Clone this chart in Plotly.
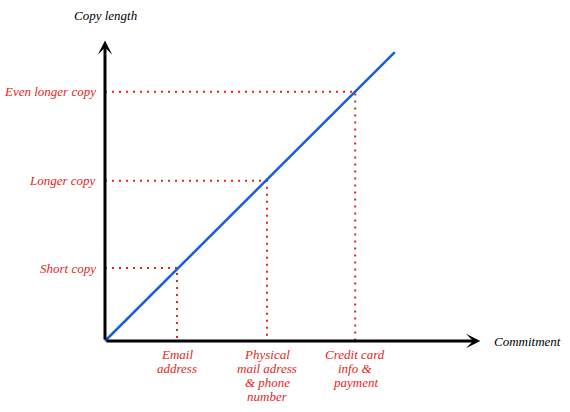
import plotly.graph_objects as go

# Data (arbitrary units; origin of the diagram at 0,0)
commitment_labels = [["Email", "address"],
                     ["Physical", "mail adress", "& phone", "number"],
                     ["Credit card", "info &", "payment"]]
copy_labels = ["Short copy", "Longer copy", "Even longer copy"]
commitment_values = [0.80, 1.80, 2.78]
copy_values = [0.81, 1.78, 2.77]
line_x = [0, 3.22]
line_y = [0, 3.21]
axis_x_end = 4.17
axis_y_end = 3.34

RED = "#e3261c"
BLUE = "#1560d4"
FONT = "Liberation Serif"
FS = 13
UNIT = 90.0  # px per data unit

fig = go.Figure()

# dotted guide lines
for cx, cy in zip(commitment_values, copy_values):
    fig.add_trace(go.Scatter(x=[0, cx, cx], y=[cy, cy, 0], mode="lines",
                             line=dict(color=RED, width=2, dash="2px,5px"),
                             hoverinfo="skip", showlegend=False))

# main line
fig.add_trace(go.Scatter(x=line_x, y=line_y, mode="lines",
                         line=dict(color=BLUE, width=2.5),
                         hoverinfo="skip", showlegend=False))

ann = []
# axes with arrows
for (hx, hy) in [(axis_x_end, 0), (0, axis_y_end)]:
    ann.append(dict(x=hx, y=hy, ax=0, ay=0, xref="x", yref="y", axref="x", ayref="y",
                    showarrow=True, arrowhead=3, arrowsize=0.8, arrowwidth=3, arrowcolor="black",
                    standoff=0, startstandoff=0, text=""))

# y labels
for cy, lab in zip(copy_values, copy_labels):
    ann.append(dict(x=-0.08, y=cy, xref="x", yref="y", text=lab, showarrow=False,
                    xanchor="right", yanchor="middle",
                    font=dict(family=FONT, size=FS, color=RED, style="italic")))
# x labels, one annotation per line
for cx, lines in zip(commitment_values, commitment_labels):
    for i, t in enumerate(lines):
        ann.append(dict(x=cx, y=-(13 + 14 * i) / UNIT, xref="x", yref="y", text=t.replace("&", "&amp;"),
                        showarrow=False, xanchor="center", yanchor="middle",
                        font=dict(family=FONT, size=FS, color=RED, style="italic")))

ann.append(dict(x=0, y=326 / UNIT, xref="x", yref="y", text="Copy length", showarrow=False,
                xanchor="center", yanchor="middle",
                font=dict(family=FONT, size=FS, color="black", style="italic")))
ann.append(dict(x=387 / UNIT, y=0, xref="x", yref="y", text="Commitment", showarrow=False,
                xanchor="left", yanchor="middle",
                font=dict(family=FONT, size=FS, color="black", style="italic")))

fig.update_layout(
    width=570, height=412,
    margin=dict(l=0, r=0, t=0, b=0),
    paper_bgcolor="white", plot_bgcolor="white",
    xaxis=dict(range=[-105 / UNIT, 465 / UNIT], visible=False, fixedrange=True),
    yaxis=dict(range=[-71 / UNIT, 341 / UNIT], visible=False, fixedrange=True),
    annotations=ann,
    showlegend=False,
)

fig.write_html("out.html", config={"displayModeBar": False})
